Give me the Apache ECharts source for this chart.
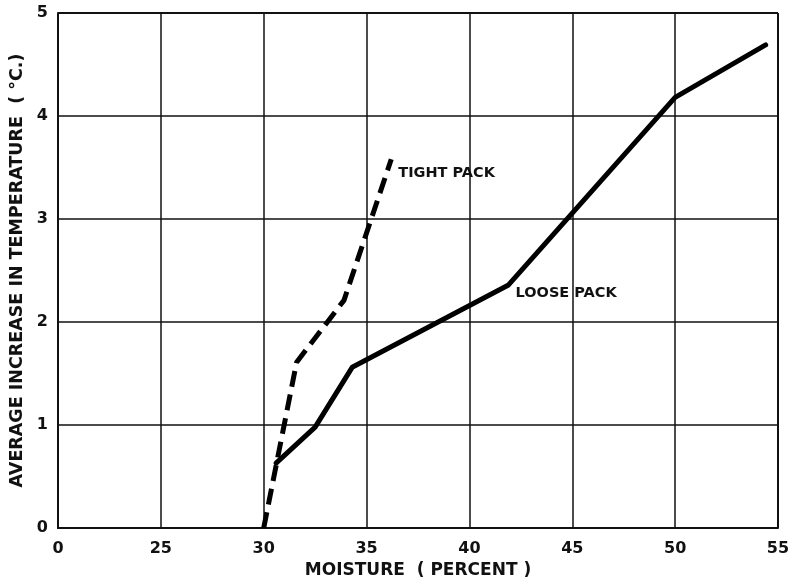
<!DOCTYPE html>
<html><head><meta charset="utf-8">
<script src="https://cdn.jsdelivr.net/npm/echarts@6/dist/echarts.min.js"></script>
<style>html,body{margin:0;padding:0;background:#fff}#c{width:795px;height:582px}</style>
</head><body><div id="c"></div>
<script>
// x axis has a break: the first tick (drawn at 20) is labelled "0"
const xTicks = [20, 25, 30, 35, 40, 45, 50, 55];
const xTickLabels = ["0", "25", "30", "35", "40", "45", "50", "55"];
const yTicks = [0, 1, 2, 3, 4, 5];
const loosePackX = [30.6, 32.5, 34.3, 41.9, 50.0, 54.4];
const loosePackY = [0.63, 0.98, 1.56, 2.36, 4.18, 4.69];
const tightPackX = [30.0, 31.6, 33.9, 36.2];
const tightPackY = [0.0, 1.61, 2.21, 3.58];
const seriesNames = ["LOOSE PACK", "TIGHT PACK"];

const font = "DejaVu Sans";
const chart = echarts.init(document.getElementById('c'));
const loose = loosePackX.map((x, i) => {
  const d = { value: [x, loosePackY[i]] };
  if (i === 3) d.label = { show: true, formatter: seriesNames[0], position: 'right', distance: 7, offset: [0, 8],
    fontFamily: font, fontWeight: 'bold', fontSize: 14.5, color: '#111' };
  return d;
});
const tight = tightPackX.map((x, i) => [x, tightPackY[i]]);
chart.setOption({
  backgroundColor: '#fff',
  animation: false,
  grid: { left: 58, top: 13, right: 17, bottom: 54, containLabel: false, outerBoundsMode: 'none' },
  xAxis: {
    type: 'value', min: 20, max: 55, interval: 5,
    name: 'MOISTURE  ( PERCENT )', nameLocation: 'middle', nameGap: 32,
    nameTextStyle: { fontFamily: font, fontWeight: 'bold', fontSize: 17, color: '#111' },
    axisLine: { show: true, lineStyle: { color: '#111', width: 2 } },
    axisTick: { show: false },
    axisLabel: { margin: 13, fontFamily: font, fontWeight: 'bold', fontSize: 16, color: '#111',
      formatter: v => xTickLabels[xTicks.indexOf(v)] },
    splitLine: { show: true, lineStyle: { color: '#111', width: 1.5 } }
  },
  yAxis: {
    type: 'value', min: 0, max: 5, interval: 1,
    name: 'AVERAGE INCREASE IN TEMPERATURE  ( °C.)', nameLocation: 'middle', nameGap: 31,
    nameTextStyle: { fontFamily: font, fontWeight: 'bold', fontSize: 17.5, color: '#111' },
    axisLine: { show: true, lineStyle: { color: '#111', width: 2 } },
    axisTick: { show: false },
    axisLabel: { margin: 10, fontFamily: font, fontWeight: 'bold', fontSize: 16, color: '#111',
      formatter: v => yTicks.includes(v) ? String(v) : '' },
    splitLine: { show: true, lineStyle: { color: '#111', width: 1.5 } }
  },
  series: [
    { name: seriesNames[0], type: 'line', data: loose, symbol: 'circle', symbolSize: 0, showSymbol: true,
      lineStyle: { color: '#000', width: 5, cap: 'round', join: 'round' }, itemStyle: { color: '#000' }, z: 5 },
    { name: seriesNames[1], type: 'line', data: tight, symbol: 'none',
      lineStyle: { color: '#000', width: 5, type: [16, 8] }, z: 5,
      endLabel: { show: true, formatter: seriesNames[1], distance: 7, offset: [0, 14],
        fontFamily: font, fontWeight: 'bold', fontSize: 14.5, color: '#111' } },
    { type: 'line', data: [[55, 0], [55, 5]], symbol: 'none', silent: true,
      lineStyle: { color: '#111', width: 2 } },
    { type: 'line', data: [[20, 5], [55, 5]], symbol: 'none', silent: true,
      lineStyle: { color: '#111', width: 2 } }
  ]
});
</script></body></html>
